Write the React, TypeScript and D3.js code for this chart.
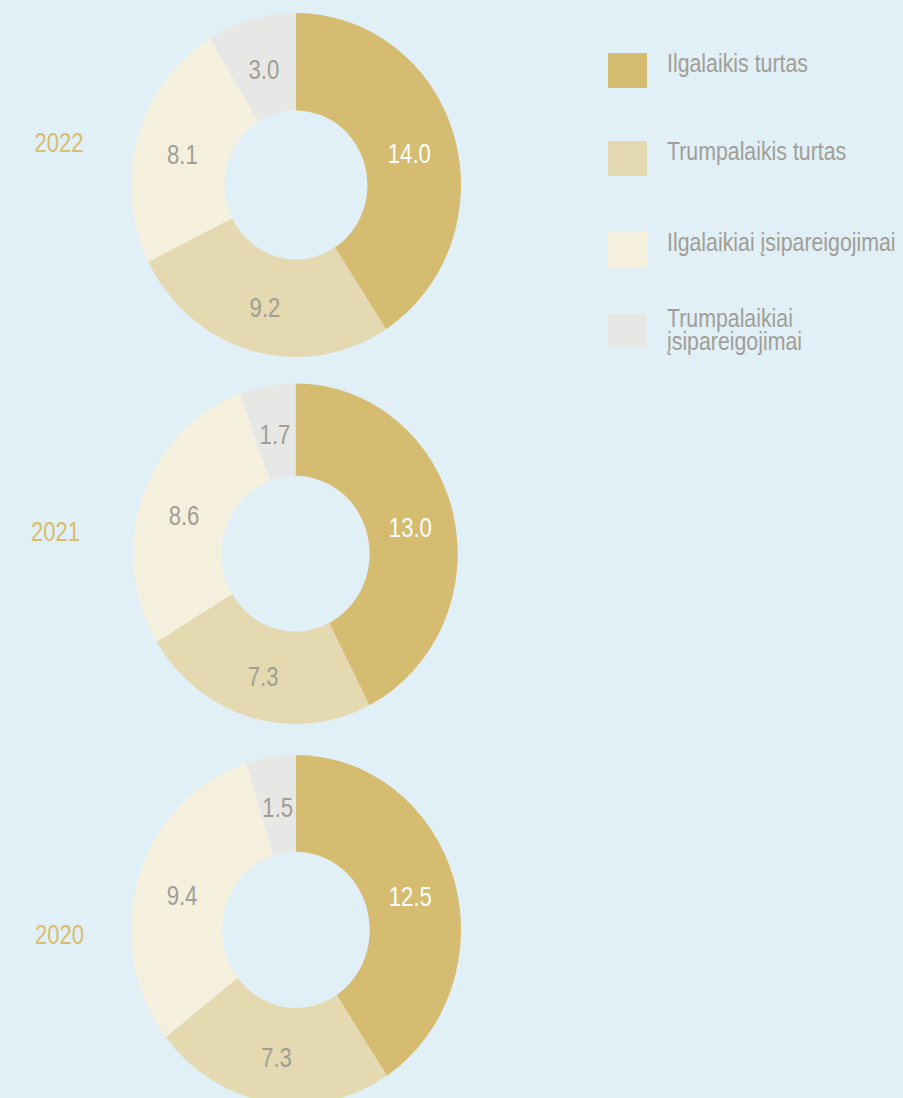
import React from "react";
import * as d3 from "d3";

// ---- data ----
const years = ["2022", "2021", "2020"];
const categories = [
  "Ilgalaikis turtas",
  "Trumpalaikis turtas",
  "Ilgalaikiai įsipareigojimai",
  "Trumpalaikiai įsipareigojimai",
];
const values2022 = [14.0, 9.2, 8.1, 3.0];
const values2021 = [13.0, 7.3, 8.6, 1.7];
const values2020 = [12.5, 7.3, 9.4, 1.5];
const seriesValues = [values2022, values2021, values2020];

// ---- layout / style ----
const W = 903;
const H = 1098;
const BG = "#e1eff7";
const colors = ["#d5bc70", "#e4d9b0", "#f5f0de", "#e7e7e6"];
const labelColors = ["#ffffff", "#a09e96", "#a09e96", "#a09e96"];
const TEXT_GRAY = "#a09e96";
const YEAR_GOLD = "#d8bd6c";
const FONT = "'Liberation Sans', Arial, sans-serif";
const SX = 0.82;

const donutLayout = [
  { cx: 296, cy: 185, rx: 165, ry: 172, inner: 0.433, yearX: 59, yearY: 151.7 },
  { cx: 295.5, cy: 553.7, rx: 162.2, ry: 170.3, inner: 0.457, yearX: 55.5, yearY: 540.7 },
  { cx: 296, cy: 929.8, rx: 165, ry: 174.8, inner: 0.447, yearX: 59.5, yearY: 944.3 },
];

const legendTops = [53, 141, 232, 313];
const legendLines = [
  ["Ilgalaikis turtas"],
  ["Trumpalaikis turtas"],
  ["Ilgalaikiai įsipareigojimai"],
  ["Trumpalaikiai", "įsipareigojimai"],
];

const fmt = d3.format(".1f");

function Donut({ values, layout, year }: { values: number[]; layout: any; year: string }) {
  const pie = d3.pie<number>().sort(null).value((d) => d).startAngle(0).endAngle(2 * Math.PI);
  const arcs = pie(values);
  const arc = d3
    .arc<d3.PieArcDatum<number>>()
    .outerRadius(layout.ry)
    .innerRadius(layout.ry * layout.inner);
  const k = layout.rx / layout.ry;
  return (
    <g>
      <g transform={`translate(${layout.cx},${layout.cy}) scale(${k},1)`}>
        {arcs.map((a, i) => (
          <path key={i} d={arc(a) || ""} fill={colors[i]} />
        ))}
      </g>
      {arcs.map((a, i) => {
        const [x, y] = arc.centroid(a);
        const px = layout.cx + x * k;
        const py = layout.cy + y + 3 + 9.6;
        return (
          <text
            key={"l" + i}
            transform={`translate(${px},${py}) scale(${SX},1)`}
            textAnchor="middle"
            fontFamily={FONT}
            fontSize={27}
            fill={labelColors[i]}
          >
            {fmt(a.data)}
          </text>
        );
      })}
      <text
        transform={`translate(${layout.yearX},${layout.yearY}) scale(0.8,1)`}
        textAnchor="middle"
        fontFamily={FONT}
        fontSize={27.5}
        fill={YEAR_GOLD}
      >
        {year}
      </text>
    </g>
  );
}

export default function App() {
  return (
    <svg
      width={W}
      height={H}
      style={{ position: "absolute", left: 0, top: 0, display: "block" }}
    >
      <rect x={0} y={0} width={W} height={H} fill={BG} />
      {seriesValues.map((vals, i) => (
        <Donut key={i} values={vals} layout={donutLayout[i]} year={years[i]} />
      ))}
      <g>
        {categories.map((c, i) => (
          <g key={c}>
            <rect x={608} y={legendTops[i]} width={39} height={35} fill={colors[i]} />
            {legendLines[i].map((line, j) => {
              const baseline =
                legendLines[i].length === 1 ? legendTops[i] + 19 : legendTops[i] + 13.5 + j * 23.3;
              return (
                <text
                  key={j}
                  transform={`translate(667,${baseline}) scale(${SX},1)`}
                  fontFamily={FONT}
                  fontSize={26}
                  fill={TEXT_GRAY}
                >
                  {line}
                </text>
              );
            })}
          </g>
        ))}
      </g>
    </svg>
  );
}
